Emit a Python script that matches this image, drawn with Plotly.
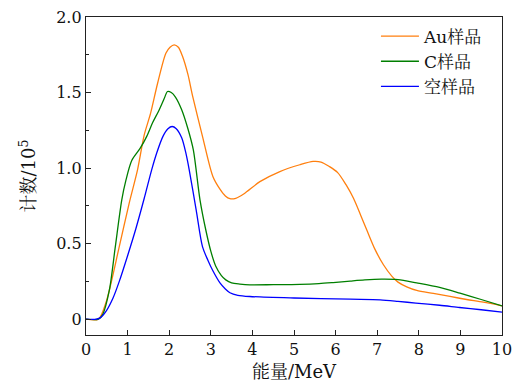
import plotly.graph_objects as go

# Energy (MeV) and counts (x10^5)
au_x = [0, 0.3, 0.48, 0.8, 1.04, 1.24, 1.4, 1.55, 1.72, 1.92, 2.02, 2.12, 2.22, 2.32, 2.45, 2.56, 2.8,
        3.05, 3.22, 3.35, 3.46, 3.6, 3.8, 4.18, 4.66, 5.14, 5.46, 5.65, 5.85, 6.05, 6.25, 6.43, 6.6,
        6.75, 6.95, 7.15, 7.35, 7.5, 7.71, 7.95, 8.35, 8.75, 9.15, 9.55, 10]
au_y = [0, 0, 0.11, 0.48, 0.77, 0.99, 1.22, 1.36, 1.56, 1.76, 1.8, 1.816, 1.8, 1.74, 1.62, 1.48, 1.21,
        0.944, 0.86, 0.815, 0.797, 0.8, 0.83, 0.91, 0.977, 1.022, 1.044, 1.04, 1.01, 0.97, 0.89, 0.80, 0.69,
        0.59, 0.46, 0.36, 0.285, 0.245, 0.214, 0.19, 0.17, 0.15, 0.13, 0.112, 0.088]

c_x = [0, 0.3, 0.4, 0.56, 0.7, 0.86, 0.96, 1.1, 1.3, 1.46, 1.6, 1.75, 1.88, 1.96, 2.05, 2.15, 2.3,
       2.45, 2.58, 2.74, 2.88, 3.0, 3.12, 3.25, 3.36, 3.5, 3.7, 3.94, 4.5, 5.14, 5.6, 5.94, 6.35, 6.7,
       7.1, 7.5, 7.95, 8.5, 8.99, 9.5, 10]
c_y = [0, 0, 0.03, 0.19, 0.47, 0.79, 0.92, 1.05, 1.13, 1.21, 1.3, 1.38, 1.46, 1.507, 1.5, 1.47, 1.386,
       1.26, 1.12, 0.79, 0.59, 0.45, 0.35, 0.29, 0.26, 0.24, 0.232, 0.227, 0.228, 0.23, 0.235, 0.242,
       0.252, 0.26, 0.265, 0.262, 0.24, 0.21, 0.172, 0.13, 0.088]

empty_x = [0, 0.25, 0.35, 0.5, 0.65, 0.8, 1.0, 1.2, 1.4, 1.58, 1.7, 1.85, 1.97, 2.07, 2.17, 2.3,
           2.4, 2.48, 2.65, 2.8, 2.93, 3.05, 3.22, 3.35, 3.46, 3.65, 3.94, 5, 6.35, 7.07, 7.5, 7.93,
           8.5, 8.98, 9.5, 10]
empty_y = [0, 0, 0.01, 0.06, 0.14, 0.25, 0.42, 0.6, 0.8, 0.99, 1.1, 1.21, 1.26, 1.275, 1.26, 1.2,
           1.1, 0.99, 0.72, 0.48, 0.39, 0.32, 0.24, 0.2, 0.175, 0.158, 0.15, 0.14, 0.132, 0.128, 0.118,
           0.106, 0.092, 0.077, 0.062, 0.047]

names = ["Au样品", "C样品", "空样品"]
colors = ["#ff7f0e", "#007f00", "#0000ff"]

y_ticks = [0, 0.5, 1.0, 1.5, 2.0]
y_ticktext = ["0", "0.5", "1.0", "1.5", "2.0"]
y_minor = [0.25, 0.75, 1.25, 1.75]
x_ticks = list(range(0, 11))

font_family = "DejaVu Serif, Noto Serif CJK SC, Noto Sans CJK SC, serif"

fig = go.Figure()
for xs, ys, n, c in zip([au_x, c_x, empty_x], [au_y, c_y, empty_y], names, colors):
    fig.add_trace(go.Scatter(x=xs, y=ys, mode="lines", name=n,
                             line=dict(color=c, width=1.3, shape="spline", smoothing=0.8)))

fig.update_layout(
    width=519, height=388,
    margin=dict(l=86, r=17, t=17, b=53, autoexpand=False),
    paper_bgcolor="white", plot_bgcolor="white",
    font=dict(family=font_family, size=16, color="#111"),
    showlegend=True,
    legend=dict(x=0.697, y=0.995, xanchor="left", yanchor="top",
                bgcolor="rgba(0,0,0,0)", font=dict(size=17),
                tracegroupgap=0, itemwidth=38),
)
fig.update_xaxes(range=[0, 10], tickvals=x_ticks, ticks="inside", ticklen=5,
                 tickcolor="#222", tickfont=dict(size=16), automargin=False,
                 showline=True, mirror=True, linecolor="#222", linewidth=1.4,
                 showgrid=False, zeroline=False,
                 title=dict(text="能量/MeV", standoff=6, font=dict(size=18)))
fig.update_yaxes(range=[-0.105, 2.0], tickvals=y_ticks, ticktext=y_ticktext,
                 ticks="inside", ticklen=5, tickcolor="#222", tickfont=dict(size=16),
                 automargin=False,
                 minor=dict(ticks="inside", tickvals=y_minor, ticklen=3, tickcolor="#222"),
                 showline=True, mirror=True, linecolor="#222", linewidth=1.4,
                 showgrid=False, zeroline=False,
                 title=dict(text="计数/10<sup>5</sup>", standoff=15, font=dict(size=18)))

fig.write_html("out.html")
